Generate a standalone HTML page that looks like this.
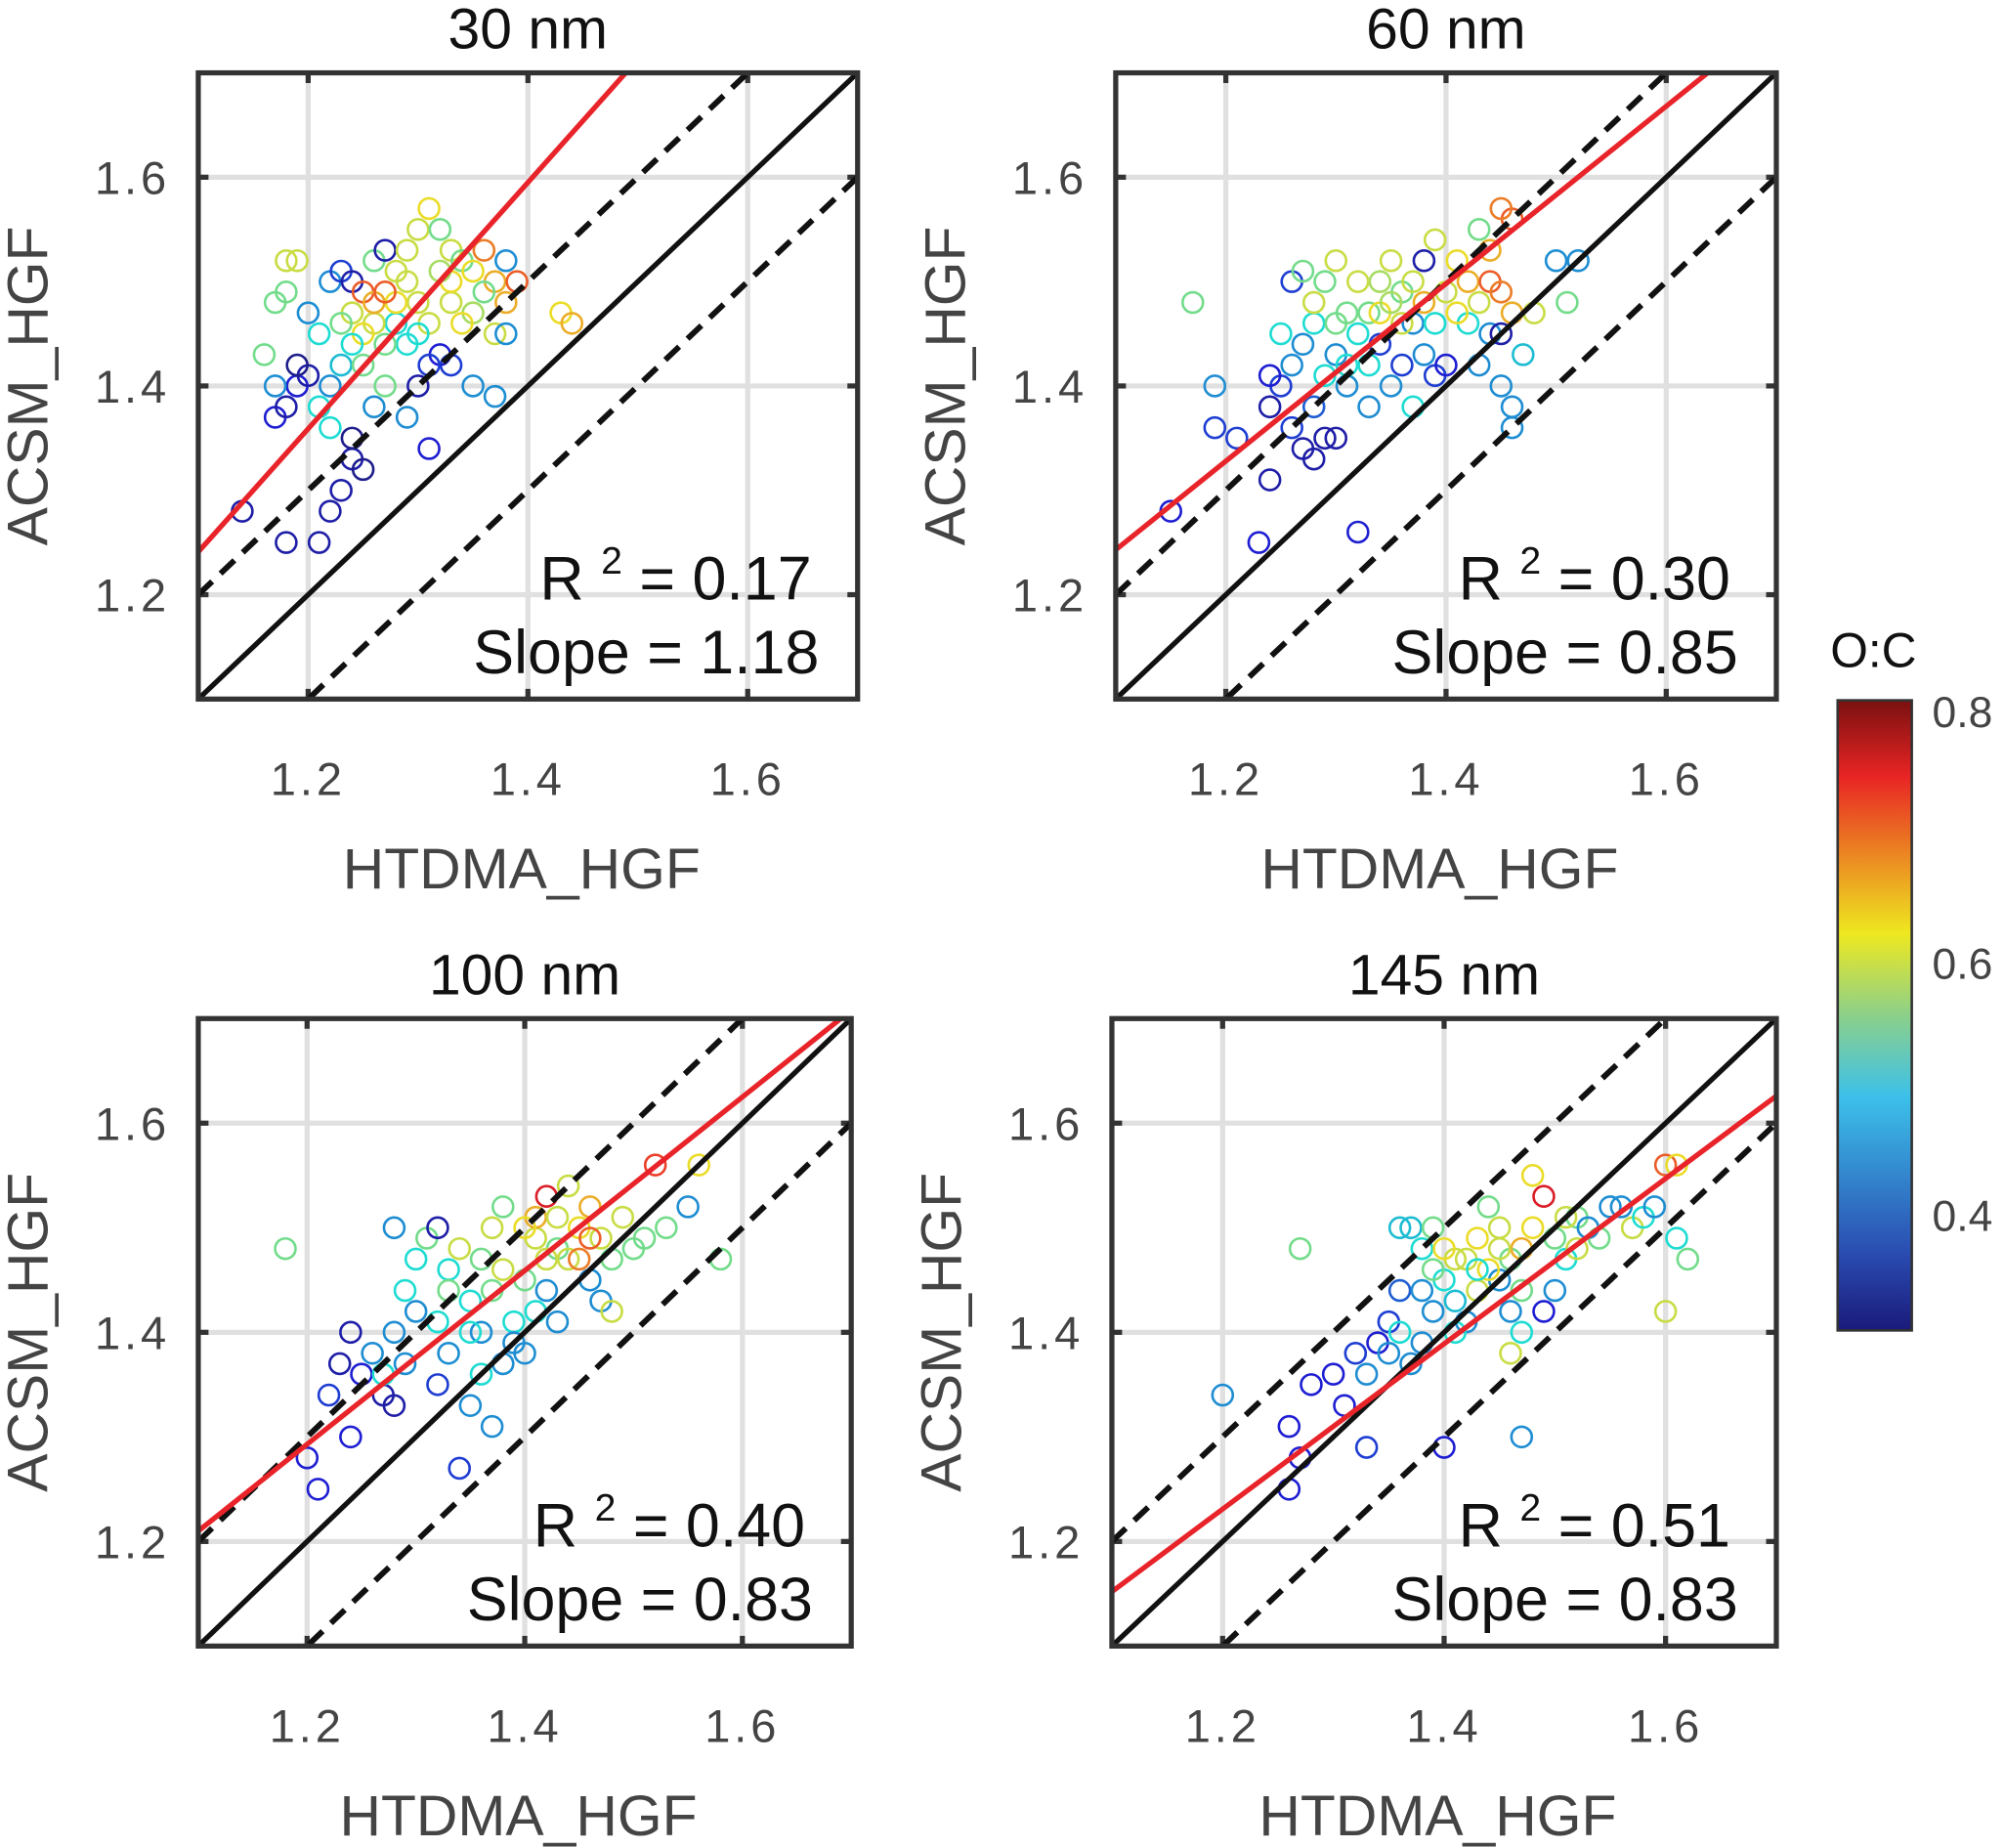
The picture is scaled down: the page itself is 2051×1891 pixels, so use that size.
<!DOCTYPE html>
<html><head><meta charset="utf-8"><style>
html,body{margin:0;padding:0;background:#fff}
svg{display:block}
text{font-family:"Liberation Sans",sans-serif}
</style></head><body>
<svg id="fig" width="2051" height="1891" viewBox="0 0 1568 1446" xmlns="http://www.w3.org/2000/svg">
<defs>
<linearGradient id="jet" x1="0" y1="1" x2="0" y2="0">
<stop offset="0" stop-color="#1a1a7a"/><stop offset="0.12" stop-color="#2a4bb0"/><stop offset="0.37" stop-color="#3cc0ea"/><stop offset="0.5" stop-color="#8cd08a"/><stop offset="0.63" stop-color="#eee820"/><stop offset="0.88" stop-color="#e82424"/><stop offset="1" stop-color="#7a1010"/>
</linearGradient>
</defs>
<g id="panels"></g>
<g>
<rect x="1438" y="548" width="58" height="493" fill="url(#jet)" stroke="#333" stroke-width="2"/>
<text x="1466" y="522" font-size="38" text-anchor="middle" fill="#111">O:C</text>
<text x="1512" y="569" font-size="34" fill="#444">0.8</text>
<text x="1512" y="766" font-size="34" fill="#444">0.6</text>
<text x="1512" y="963" font-size="34" fill="#444">0.4</text>
</g>
</svg>
<script>
const titles=["30 nm","60 nm","100 nm","145 nm"];
const r2Labels=["0.17","0.30","0.40","0.51"];
const slopeLabels=["1.18","0.85","0.83","0.83"];
const fitIntercepts=[1.241,1.243,1.21,1.152];
const fitSlopes=[1.18,0.85,0.83,0.79];
const tickValues=[1.2,1.4,1.6];
const tickLabels=["1.2","1.4","1.6"];
const p1=[[1.14,1.28,.35],[1.18,1.25,.35],[1.21,1.25,.35],[1.22,1.28,.35],[1.23,1.30,.35],[1.24,1.33,.35],[1.25,1.32,.33],[1.24,1.35,.33],[1.17,1.37,.38],[1.18,1.38,.35],[1.19,1.40,.38],[1.20,1.41,.35],[1.19,1.42,.33],[1.17,1.40,.45],[1.16,1.43,.55],[1.17,1.48,.55],[1.18,1.49,.55],[1.18,1.52,.6],[1.19,1.52,.6],[1.20,1.47,.45],[1.21,1.45,.5],[1.22,1.50,.45],[1.23,1.51,.4],[1.24,1.50,.35],[1.25,1.49,.7],[1.26,1.52,.55],[1.27,1.53,.35],[1.28,1.51,.6],[1.29,1.50,.6],[1.30,1.55,.6],[1.31,1.57,.62],[1.32,1.55,.55],[1.33,1.53,.6],[1.34,1.52,.55],[1.35,1.51,.62],[1.36,1.53,.68],[1.37,1.50,.65],[1.38,1.52,.45],[1.39,1.50,.7],[1.38,1.48,.65],[1.37,1.45,.6],[1.38,1.45,.45],[1.37,1.39,.45],[1.35,1.40,.45],[1.33,1.42,.4],[1.32,1.43,.38],[1.31,1.42,.4],[1.30,1.40,.35],[1.29,1.44,.5],[1.28,1.46,.5],[1.27,1.44,.55],[1.26,1.46,.6],[1.25,1.45,.62],[1.24,1.44,.5],[1.23,1.42,.48],[1.22,1.40,.45],[1.21,1.38,.5],[1.22,1.36,.5],[1.26,1.38,.45],[1.27,1.40,.55],[1.29,1.37,.45],[1.31,1.34,.38],[1.43,1.47,.62],[1.44,1.46,.65],[1.30,1.48,.6],[1.33,1.48,.6],[1.35,1.47,.58],[1.28,1.48,.62],[1.26,1.48,.65],[1.24,1.47,.6],[1.31,1.46,.6],[1.34,1.46,.62],[1.33,1.50,.62],[1.29,1.53,.6],[1.25,1.42,.55],[1.23,1.46,.55],[1.27,1.49,.7],[1.36,1.49,.55],[1.32,1.51,.58],[1.30,1.45,.5]];
const p2=[[1.15,1.28,.38],[1.17,1.48,.55],[1.19,1.40,.45],[1.19,1.36,.4],[1.21,1.35,.4],[1.23,1.25,.38],[1.24,1.31,.35],[1.24,1.38,.35],[1.25,1.40,.4],[1.24,1.41,.38],[1.26,1.36,.4],[1.27,1.34,.35],[1.28,1.33,.35],[1.29,1.35,.35],[1.30,1.35,.35],[1.32,1.26,.38],[1.26,1.42,.45],[1.27,1.44,.45],[1.28,1.46,.5],[1.26,1.50,.4],[1.27,1.51,.55],[1.28,1.48,.6],[1.29,1.50,.55],[1.30,1.52,.6],[1.31,1.47,.55],[1.32,1.45,.5],[1.30,1.43,.45],[1.29,1.41,.5],[1.31,1.40,.45],[1.33,1.42,.5],[1.34,1.44,.4],[1.33,1.47,.55],[1.34,1.50,.58],[1.35,1.52,.6],[1.36,1.49,.55],[1.37,1.46,.45],[1.36,1.42,.4],[1.35,1.40,.45],[1.37,1.38,.5],[1.38,1.43,.45],[1.39,1.41,.4],[1.40,1.42,.38],[1.39,1.46,.5],[1.40,1.49,.6],[1.41,1.52,.62],[1.39,1.54,.6],[1.38,1.52,.35],[1.42,1.50,.65],[1.43,1.48,.6],[1.44,1.50,.7],[1.45,1.49,.68],[1.44,1.53,.65],[1.46,1.56,.7],[1.45,1.57,.68],[1.43,1.55,.55],[1.42,1.46,.5],[1.44,1.45,.45],[1.43,1.42,.45],[1.45,1.40,.45],[1.46,1.38,.45],[1.46,1.36,.45],[1.47,1.43,.48],[1.48,1.47,.6],[1.46,1.47,.65],[1.45,1.45,.35],[1.50,1.52,.45],[1.51,1.48,.55],[1.52,1.52,.45],[1.32,1.50,.6],[1.34,1.47,.62],[1.36,1.46,.6],[1.38,1.48,.65],[1.30,1.46,.55],[1.33,1.38,.45],[1.28,1.38,.42],[1.25,1.45,.5],[1.35,1.48,.58],[1.41,1.47,.62],[1.37,1.50,.6],[1.31,1.42,.5]];
const p3=[[1.18,1.48,.55],[1.20,1.28,.38],[1.21,1.25,.38],[1.22,1.34,.4],[1.23,1.37,.35],[1.24,1.40,.35],[1.25,1.36,.38],[1.24,1.30,.38],[1.26,1.38,.45],[1.27,1.34,.35],[1.28,1.33,.35],[1.28,1.40,.45],[1.27,1.36,.5],[1.29,1.37,.45],[1.28,1.50,.45],[1.29,1.44,.5],[1.30,1.42,.45],[1.31,1.49,.55],[1.32,1.50,.35],[1.33,1.46,.5],[1.32,1.41,.5],[1.33,1.38,.45],[1.32,1.35,.4],[1.34,1.27,.4],[1.35,1.33,.45],[1.36,1.40,.45],[1.35,1.43,.5],[1.36,1.47,.55],[1.37,1.50,.6],[1.38,1.52,.55],[1.37,1.31,.45],[1.38,1.37,.45],[1.39,1.41,.5],[1.40,1.45,.55],[1.41,1.49,.6],[1.42,1.53,.75],[1.41,1.51,.65],[1.43,1.48,.55],[1.42,1.44,.45],[1.43,1.41,.45],[1.44,1.47,.6],[1.45,1.50,.62],[1.44,1.54,.6],[1.46,1.52,.65],[1.47,1.49,.6],[1.46,1.45,.45],[1.47,1.43,.45],[1.48,1.47,.55],[1.48,1.42,.6],[1.49,1.51,.6],[1.50,1.48,.55],[1.51,1.49,.55],[1.52,1.56,.72],[1.53,1.50,.55],[1.55,1.52,.45],[1.56,1.56,.62],[1.58,1.47,.55],[1.34,1.48,.6],[1.38,1.46,.6],[1.40,1.50,.62],[1.35,1.40,.5],[1.39,1.39,.45],[1.45,1.47,.68],[1.43,1.51,.6],[1.37,1.44,.55],[1.41,1.42,.5],[1.30,1.47,.5],[1.33,1.44,.55],[1.36,1.36,.5],[1.46,1.49,.7],[1.40,1.38,.45],[1.42,1.47,.6]];
const p4=[[1.20,1.34,.45],[1.26,1.31,.38],[1.27,1.28,.38],[1.26,1.25,.38],[1.27,1.48,.55],[1.28,1.35,.38],[1.30,1.36,.38],[1.31,1.33,.38],[1.32,1.38,.4],[1.33,1.36,.45],[1.34,1.39,.38],[1.33,1.29,.4],[1.35,1.41,.4],[1.36,1.40,.5],[1.37,1.37,.45],[1.38,1.39,.45],[1.36,1.44,.42],[1.38,1.44,.45],[1.39,1.42,.45],[1.38,1.48,.5],[1.37,1.50,.48],[1.36,1.50,.48],[1.39,1.50,.55],[1.40,1.45,.5],[1.41,1.47,.6],[1.40,1.29,.38],[1.41,1.43,.48],[1.42,1.41,.45],[1.43,1.44,.6],[1.43,1.49,.62],[1.44,1.52,.55],[1.45,1.50,.6],[1.46,1.47,.55],[1.45,1.45,.45],[1.46,1.42,.45],[1.47,1.40,.5],[1.46,1.38,.6],[1.47,1.30,.45],[1.48,1.50,.62],[1.49,1.53,.75],[1.48,1.55,.62],[1.50,1.49,.55],[1.51,1.47,.5],[1.50,1.44,.45],[1.49,1.42,.38],[1.52,1.51,.55],[1.53,1.50,.45],[1.54,1.49,.55],[1.55,1.52,.45],[1.56,1.52,.45],[1.57,1.50,.6],[1.58,1.51,.5],[1.59,1.52,.45],[1.60,1.56,.7],[1.61,1.56,.62],[1.60,1.42,.6],[1.62,1.47,.55],[1.61,1.49,.5],[1.44,1.46,.62],[1.47,1.48,.65],[1.42,1.47,.6],[1.39,1.46,.55],[1.43,1.46,.5],[1.45,1.48,.6],[1.51,1.51,.6],[1.41,1.40,.5],[1.35,1.38,.45],[1.47,1.44,.55],[1.52,1.48,.6],[1.40,1.48,.62]];
const panelPoints=[p1,p2,p3,p4];
const boxes=[{x0:155,x1:671,y0:57,y1:547},{x0:873,x1:1390,y0:57,y1:547},{x0:155,x1:666,y0:797,y1:1288},{x0:870,x1:1390,y0:797,y1:1288}];
const NS="http://www.w3.org/2000/svg";
function jet(v){const t=Math.max(0,Math.min(1,(v-0.32)/(0.8-0.32)));
 const r=Math.max(0,Math.min(1,1.5-Math.abs(4*t-3))),g=Math.max(0,Math.min(1,1.5-Math.abs(4*t-2))),b=Math.max(0,Math.min(1,1.5-Math.abs(4*t-1)));
 return `rgb(${Math.round(30+r*205)},${Math.round(30+g*190)},${Math.round(40+b*170)})`;}
function mk(tag,attrs,parent){const e=document.createElementNS(NS,tag);for(const k in attrs)e.setAttribute(k,attrs[k]);parent.appendChild(e);return e;}
const root=document.getElementById('panels');
boxes.forEach((b,i)=>{
 const g=mk('g',{},root);
 
 
 const sx=v=>b.x0+(v-1.1)/0.6*(b.x1-b.x0);
 const sy=v=>b.y1-(v-1.1)/0.6*(b.y1-b.y0);
 const clip=mk('clipPath',{id:'c'+i},g);mk('rect',{x:b.x0,y:b.y0,width:b.x1-b.x0,height:b.y1-b.y0},clip);
 tickValues.forEach((t,k)=>{
  const gx=mk('line',{x1:sx(t),x2:sx(t),y1:b.y0,y2:b.y1,stroke:'#e0e0e0','stroke-width':4},g);
  
  
  const gy=mk('line',{x1:b.x0,x2:b.x1,y1:sy(t),y2:sy(t),stroke:'#e0e0e0','stroke-width':4},g);
  
  
  const tx=mk('text',{x:sx(t),y:b.y1+75,'font-size':36,'text-anchor':'middle',fill:'#444','letter-spacing':'3'},g);tx.textContent=tickLabels[k];
  
  
  const ty=mk('text',{x:b.x0-22,y:sy(t)+13,'font-size':36,'text-anchor':'end',fill:'#444','letter-spacing':'3'},g);ty.textContent=tickLabels[k];
  
  
  mk('line',{x1:sx(t),x2:sx(t),y1:b.y1,y2:b.y1-8,stroke:'#333','stroke-width':4},g);
  mk('line',{x1:sx(t),x2:sx(t),y1:b.y0,y2:b.y0+8,stroke:'#333','stroke-width':4},g);
  mk('line',{x1:b.x0,x2:b.x0+8,y1:sy(t),y2:sy(t),stroke:'#333','stroke-width':4},g);
  mk('line',{x1:b.x1,x2:b.x1-8,y1:sy(t),y2:sy(t),stroke:'#333','stroke-width':4},g);
 });
 const pg=mk('g',{'clip-path':`url(#c${i})`},g);
 panelPoints[i].forEach(p=>{
  const c=mk('circle',{cx:sx(p[0]),cy:sy(p[1]),r:8,fill:'none',stroke:jet(p[2]),'stroke-width':2},pg);
  
  
 });
 const l1=mk('line',{x1:sx(1.1),y1:sy(1.1),x2:sx(1.7),y2:sy(1.7),stroke:'#111','stroke-width':4},pg);
 
 
 [0.1,-0.1].forEach(o=>{
  const d=mk('line',{x1:sx(1.1),y1:sy(1.1+o),x2:sx(1.7),y2:sy(1.7+o),stroke:'#111','stroke-width':4.5,'stroke-dasharray':'15 9'},pg);
  
  
 });
 const fr=mk('line',{x1:sx(1.1),y1:sy(fitIntercepts[i]),x2:sx(1.7),y2:sy(fitIntercepts[i]+fitSlopes[i]*0.6),stroke:'#e8242a','stroke-width':4},pg);
 
 
 mk('rect',{x:b.x0,y:b.y0,width:b.x1-b.x0,height:b.y1-b.y0,fill:'none',stroke:'#333','stroke-width':4},g);
 const tt=mk('text',{x:(b.x0+b.x1)/2,y:b.y0-19,'font-size':45,'text-anchor':'middle',fill:'#111'},g);tt.textContent=titles[i];
 
 
 const xl=mk('text',{x:(b.x0+b.x1)/2-5,y:b.y1+148,'font-size':45,'text-anchor':'middle',fill:'#444'},g);xl.textContent='HTDMA_HGF';
 
 
 const yl=mk('text',{x:0,y:0,'font-size':45,'text-anchor':'middle',fill:'#444',transform:`translate(${b.x0-118},${(b.y0+b.y1)/2}) rotate(-90)`},g);yl.textContent='ACSM_HGF';
 
 
 const r2=mk('text',{x:b.x1-36,y:b.y1-78,'font-size':48,'text-anchor':'end',fill:'#111'},g);
 r2.innerHTML=`R <tspan font-size="30" dy="-20">2</tspan><tspan dy="20"> = ${r2Labels[i]}</tspan>`;
 
 
 const sl=mk('text',{x:b.x1-30,y:b.y1-20,'font-size':48,'text-anchor':'end',fill:'#111'},g);sl.textContent='Slope = '+slopeLabels[i];
 
 
});
</script>
</body></html>
